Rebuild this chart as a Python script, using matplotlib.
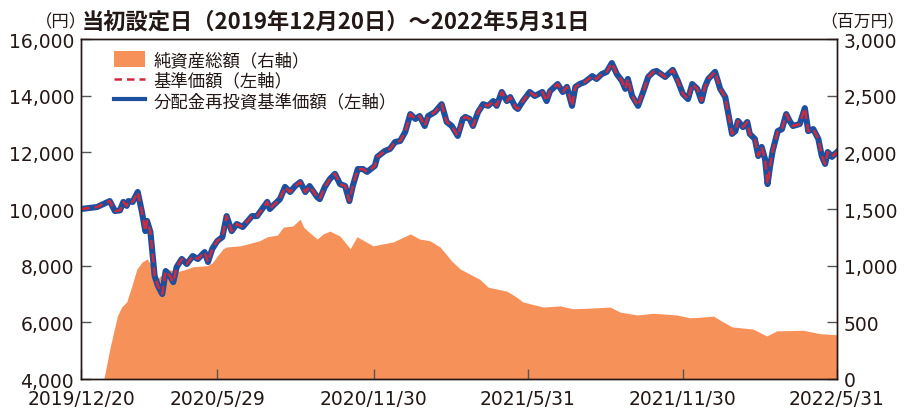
import matplotlib
matplotlib.use('Agg')
import matplotlib.pyplot as plt
import pandas as pd
from matplotlib.patches import Patch
from matplotlib.lines import Line2D

# 基準価額 (円)
price_dates = [
    '2019-12-20', '2020-01-08', '2020-01-23', '2020-01-29', '2020-02-04', '2020-02-08',
    '2020-02-12', '2020-02-14', '2020-02-19', '2020-02-25', '2020-03-01', '2020-03-05',
    '2020-03-07', '2020-03-11', '2020-03-16', '2020-03-20', '2020-03-25', '2020-03-29',
    '2020-04-03', '2020-04-07', '2020-04-11', '2020-04-17', '2020-04-23', '2020-04-30',
    '2020-05-06', '2020-05-14', '2020-05-18', '2020-05-23', '2020-05-29', '2020-06-04',
    '2020-06-09', '2020-06-15', '2020-06-21', '2020-06-28', '2020-07-09', '2020-07-15',
    '2020-07-21', '2020-07-27', '2020-07-30', '2020-08-05', '2020-08-11', '2020-08-17',
    '2020-08-23', '2020-08-29', '2020-09-04', '2020-09-10', '2020-09-15', '2020-09-24',
    '2020-09-27', '2020-10-03', '2020-10-09', '2020-10-15', '2020-10-21', '2020-10-27',
    '2020-11-01', '2020-11-05', '2020-11-11', '2020-11-17', '2020-11-22', '2020-12-01',
    '2020-12-04', '2020-12-13', '2020-12-19', '2020-12-25', '2020-12-31', '2021-01-06',
    '2021-01-12', '2021-01-18', '2021-01-23', '2021-01-29', '2021-02-02', '2021-02-10',
    '2021-02-18', '2021-02-24', '2021-03-02', '2021-03-09', '2021-03-15', '2021-03-18',
    '2021-03-23', '2021-03-27', '2021-04-02', '2021-04-08', '2021-04-14', '2021-04-20',
    '2021-04-24', '2021-04-30', '2021-05-06', '2021-05-10', '2021-05-16', '2021-05-19',
    '2021-05-25', '2021-06-02', '2021-06-08', '2021-06-17', '2021-06-22', '2021-06-26',
    '2021-07-05', '2021-07-11', '2021-07-16', '2021-07-22', '2021-07-26', '2021-07-31',
    '2021-08-06', '2021-08-15', '2021-08-20', '2021-08-26', '2021-09-01', '2021-09-07',
    '2021-09-13', '2021-09-19', '2021-09-23', '2021-09-26', '2021-10-01', '2021-10-08',
    '2021-10-14', '2021-10-20', '2021-10-26', '2021-10-30', '2021-11-09', '2021-11-18',
    '2021-11-24', '2021-11-30', '2021-12-06', '2021-12-11', '2021-12-17', '2021-12-22',
    '2021-12-26', '2021-12-30', '2022-01-07', '2022-01-13', '2022-01-19', '2022-01-22',
    '2022-01-27', '2022-01-31', '2022-02-03', '2022-02-09', '2022-02-14', '2022-02-17',
    '2022-02-23', '2022-02-27', '2022-03-03', '2022-03-07', '2022-03-10', '2022-03-13',
    '2022-03-16', '2022-03-22', '2022-03-27', '2022-04-01', '2022-04-05', '2022-04-09',
    '2022-04-17', '2022-04-23', '2022-04-27', '2022-05-03', '2022-05-09', '2022-05-13',
    '2022-05-17', '2022-05-20', '2022-05-25', '2022-05-31',
]
price = [
    10000, 10070, 10280, 9930, 9950, 10250,
    10110, 10280, 10250, 10600, 9890, 9220,
    9580, 9190, 7635, 7280, 7000, 7810,
    7635, 7420, 7950, 8235, 8060, 8340,
    8235, 8480, 8130, 8590, 8870, 9010,
    9750, 9220, 9470, 9365, 9750, 9750,
    10000, 10250, 10000, 10180, 10350, 10780,
    10600, 10810, 10950, 10600, 10810, 10420,
    10350, 10780, 11060, 11240, 10880, 10810,
    10280, 10810, 11410, 11410, 11310, 11520,
    11840, 12050, 12120, 12365, 12400, 12720,
    13350, 13180, 13280, 12930, 13280, 13420,
    13700, 13070, 12930, 12580, 13180, 13250,
    13180, 12930, 13420, 13700, 13640, 13810,
    13640, 14130, 13810, 13950, 13600, 13530,
    13810, 14130, 13990, 14130, 13810, 14160,
    14410, 14130, 14310, 13640, 14310, 14410,
    14480, 14690, 14590, 14760, 14840, 15150,
    14760, 14520, 14240, 14590, 13990, 13640,
    14130, 14660, 14840, 14870, 14660, 14910,
    14520, 14060, 13880, 14410, 14240, 13810,
    14310, 14590, 14840, 14240, 13950, 13460,
    12650, 12750, 13110, 12890, 13070, 12650,
    12470, 11870, 12190, 11760, 10880, 11520,
    12050, 12750, 12820, 13350, 13110, 12930,
    13000, 13560, 12750, 12820, 12470, 11870,
    11590, 12010, 11840, 12010,
]
# no distributions, so the reinvested price is the same series
reinvested = list(price)

# 純資産総額 (百万円)
asset_dates = [
    '2019-12-20', '2020-01-16', '2020-01-23', '2020-02-01', '2020-02-06', '2020-02-12',
    '2020-02-18', '2020-02-24', '2020-03-01', '2020-03-07', '2020-03-11', '2020-03-19',
    '2020-03-31', '2020-04-11', '2020-04-23', '2020-04-30', '2020-05-17', '2020-05-23',
    '2020-05-29', '2020-06-05', '2020-06-09', '2020-06-25', '2020-07-03', '2020-07-18',
    '2020-07-27', '2020-08-08', '2020-08-15', '2020-08-26', '2020-09-04', '2020-09-08',
    '2020-09-13', '2020-09-24', '2020-10-01', '2020-10-09', '2020-10-21', '2020-11-02',
    '2020-11-10', '2020-11-29', '2020-12-23', '2021-01-12', '2021-01-23', '2021-02-04',
    '2021-02-16', '2021-02-24', '2021-03-02', '2021-03-12', '2021-04-04', '2021-04-14',
    '2021-05-06', '2021-05-16', '2021-05-25', '2021-06-18', '2021-07-08', '2021-07-23',
    '2021-08-12', '2021-09-05', '2021-09-17', '2021-10-07', '2021-10-26', '2021-11-23',
    '2021-12-08', '2021-12-20', '2022-01-05', '2022-01-15', '2022-01-27', '2022-02-21',
    '2022-03-09', '2022-03-21', '2022-04-21', '2022-05-01', '2022-05-11', '2022-05-31',
]
net_assets = [
    0, 0, 265, 556, 635, 680,
    820, 970, 1030, 1060, 1015, 880,
    970, 945, 970, 990, 1000, 1025,
    1085, 1150, 1165, 1175, 1190, 1220,
    1255, 1270, 1340, 1350, 1410, 1340,
    1305, 1235, 1280, 1305, 1260, 1150,
    1255, 1175, 1210, 1280, 1235, 1220,
    1165, 1095, 1040, 970, 880, 810,
    775, 730, 680, 635, 645, 620,
    625, 635, 590, 565, 580, 565,
    540, 545, 555, 510, 460, 440,
    380, 425, 430, 415, 400, 390,
]

tick_dates = ['2019-12-20', '2020-05-29', '2020-11-30', '2021-05-31', '2021-11-30', '2022-05-31']
tick_labels = ['2019/12/20', '2020/5/29', '2020/11/30', '2021/5/31', '2021/11/30', '2022/5/31']

left_ticks = [4000, 6000, 8000, 10000, 12000, 14000, 16000]
right_ticks = [0, 500, 1000, 1500, 2000, 2500, 3000]

orange = '#F6915A'
blue = '#1D4F9F'
red = '#D22A3A'
txt = '#231815'
cjk = ['Noto Sans CJK JP', 'DejaVu Sans']

fig = plt.figure(figsize=(9.07, 4.10), dpi=100)
ax = fig.add_axes([81 / 907, 1 - 380 / 410, (837 - 81) / 907, 340 / 410])
ax2 = ax.twinx()

# area on the right axis, drawn behind the price lines
ax2.fill_between(pd.to_datetime(asset_dates), net_assets, 0, color=orange, linewidth=0)
ax.set_zorder(ax2.get_zorder() + 1)
ax.patch.set_visible(False)

pd_price = pd.to_datetime(price_dates)
ax.plot(pd_price, reinvested, color=blue, linewidth=4.4, solid_joinstyle='round')
ax.plot(pd_price, price, color=red, linewidth=1.8, dashes=(3.5, 2))

ax.set_xlim(pd.Timestamp('2019-12-20'), pd.Timestamp('2022-05-31'))
ax.set_ylim(4000, 16000)
ax2.set_ylim(0, 3000)

ax.set_xticks(pd.to_datetime(tick_dates))
ax.set_xticklabels(tick_labels)
ax.set_yticks(left_ticks)
ax.set_yticklabels([f'{v:,}' for v in left_ticks])
ax2.set_yticks(right_ticks)
ax2.set_yticklabels([f'{v:,}' for v in right_ticks])

for a in (ax, ax2):
    a.tick_params(direction='in', length=7, width=1, color='#555555',
                  labelsize=13.5, labelcolor=txt, pad=5)
    for s in a.spines.values():
        s.set_color('#231815')
        s.set_linewidth(1.0)
ax.tick_params(axis='x', pad=7)

# legend
handles = [
    Patch(facecolor=orange, edgecolor='none'),
    Line2D([], [], color=red, linewidth=1.8, dashes=(3, 2)),
    Line2D([], [], color=blue, linewidth=3),
]
labels = ['純資産総額（右軸）', '基準価額（左軸）', '分配金再投資基準価額（左軸）']
leg = ax.legend(handles, labels, loc='upper left', bbox_to_anchor=(0.035, 0.985),
                frameon=False, handlelength=1.75, handleheight=1.0, handletextpad=0.5,
                labelspacing=0.15, borderaxespad=0,
                prop={'family': cjk, 'size': 12.5})
for t in leg.get_texts():
    t.set_color(txt)

# title and units
fig.text(82 / 907, 1 - 22 / 410, '当初設定日（2019年12月20日）～2022年5月31日',
         family=cjk, fontsize=16, fontweight='bold', color=txt, va='center', ha='left')
fig.text(87 / 907, 1 - 22 / 410, '（円）', family=cjk, fontsize=12.5,
         color=txt, va='center', ha='right')
fig.text(905 / 907, 1 - 22 / 410, '（百万円）', family=cjk, fontsize=12.2,
         color=txt, va='center', ha='right')

fig.savefig('out.png', dpi=100)
